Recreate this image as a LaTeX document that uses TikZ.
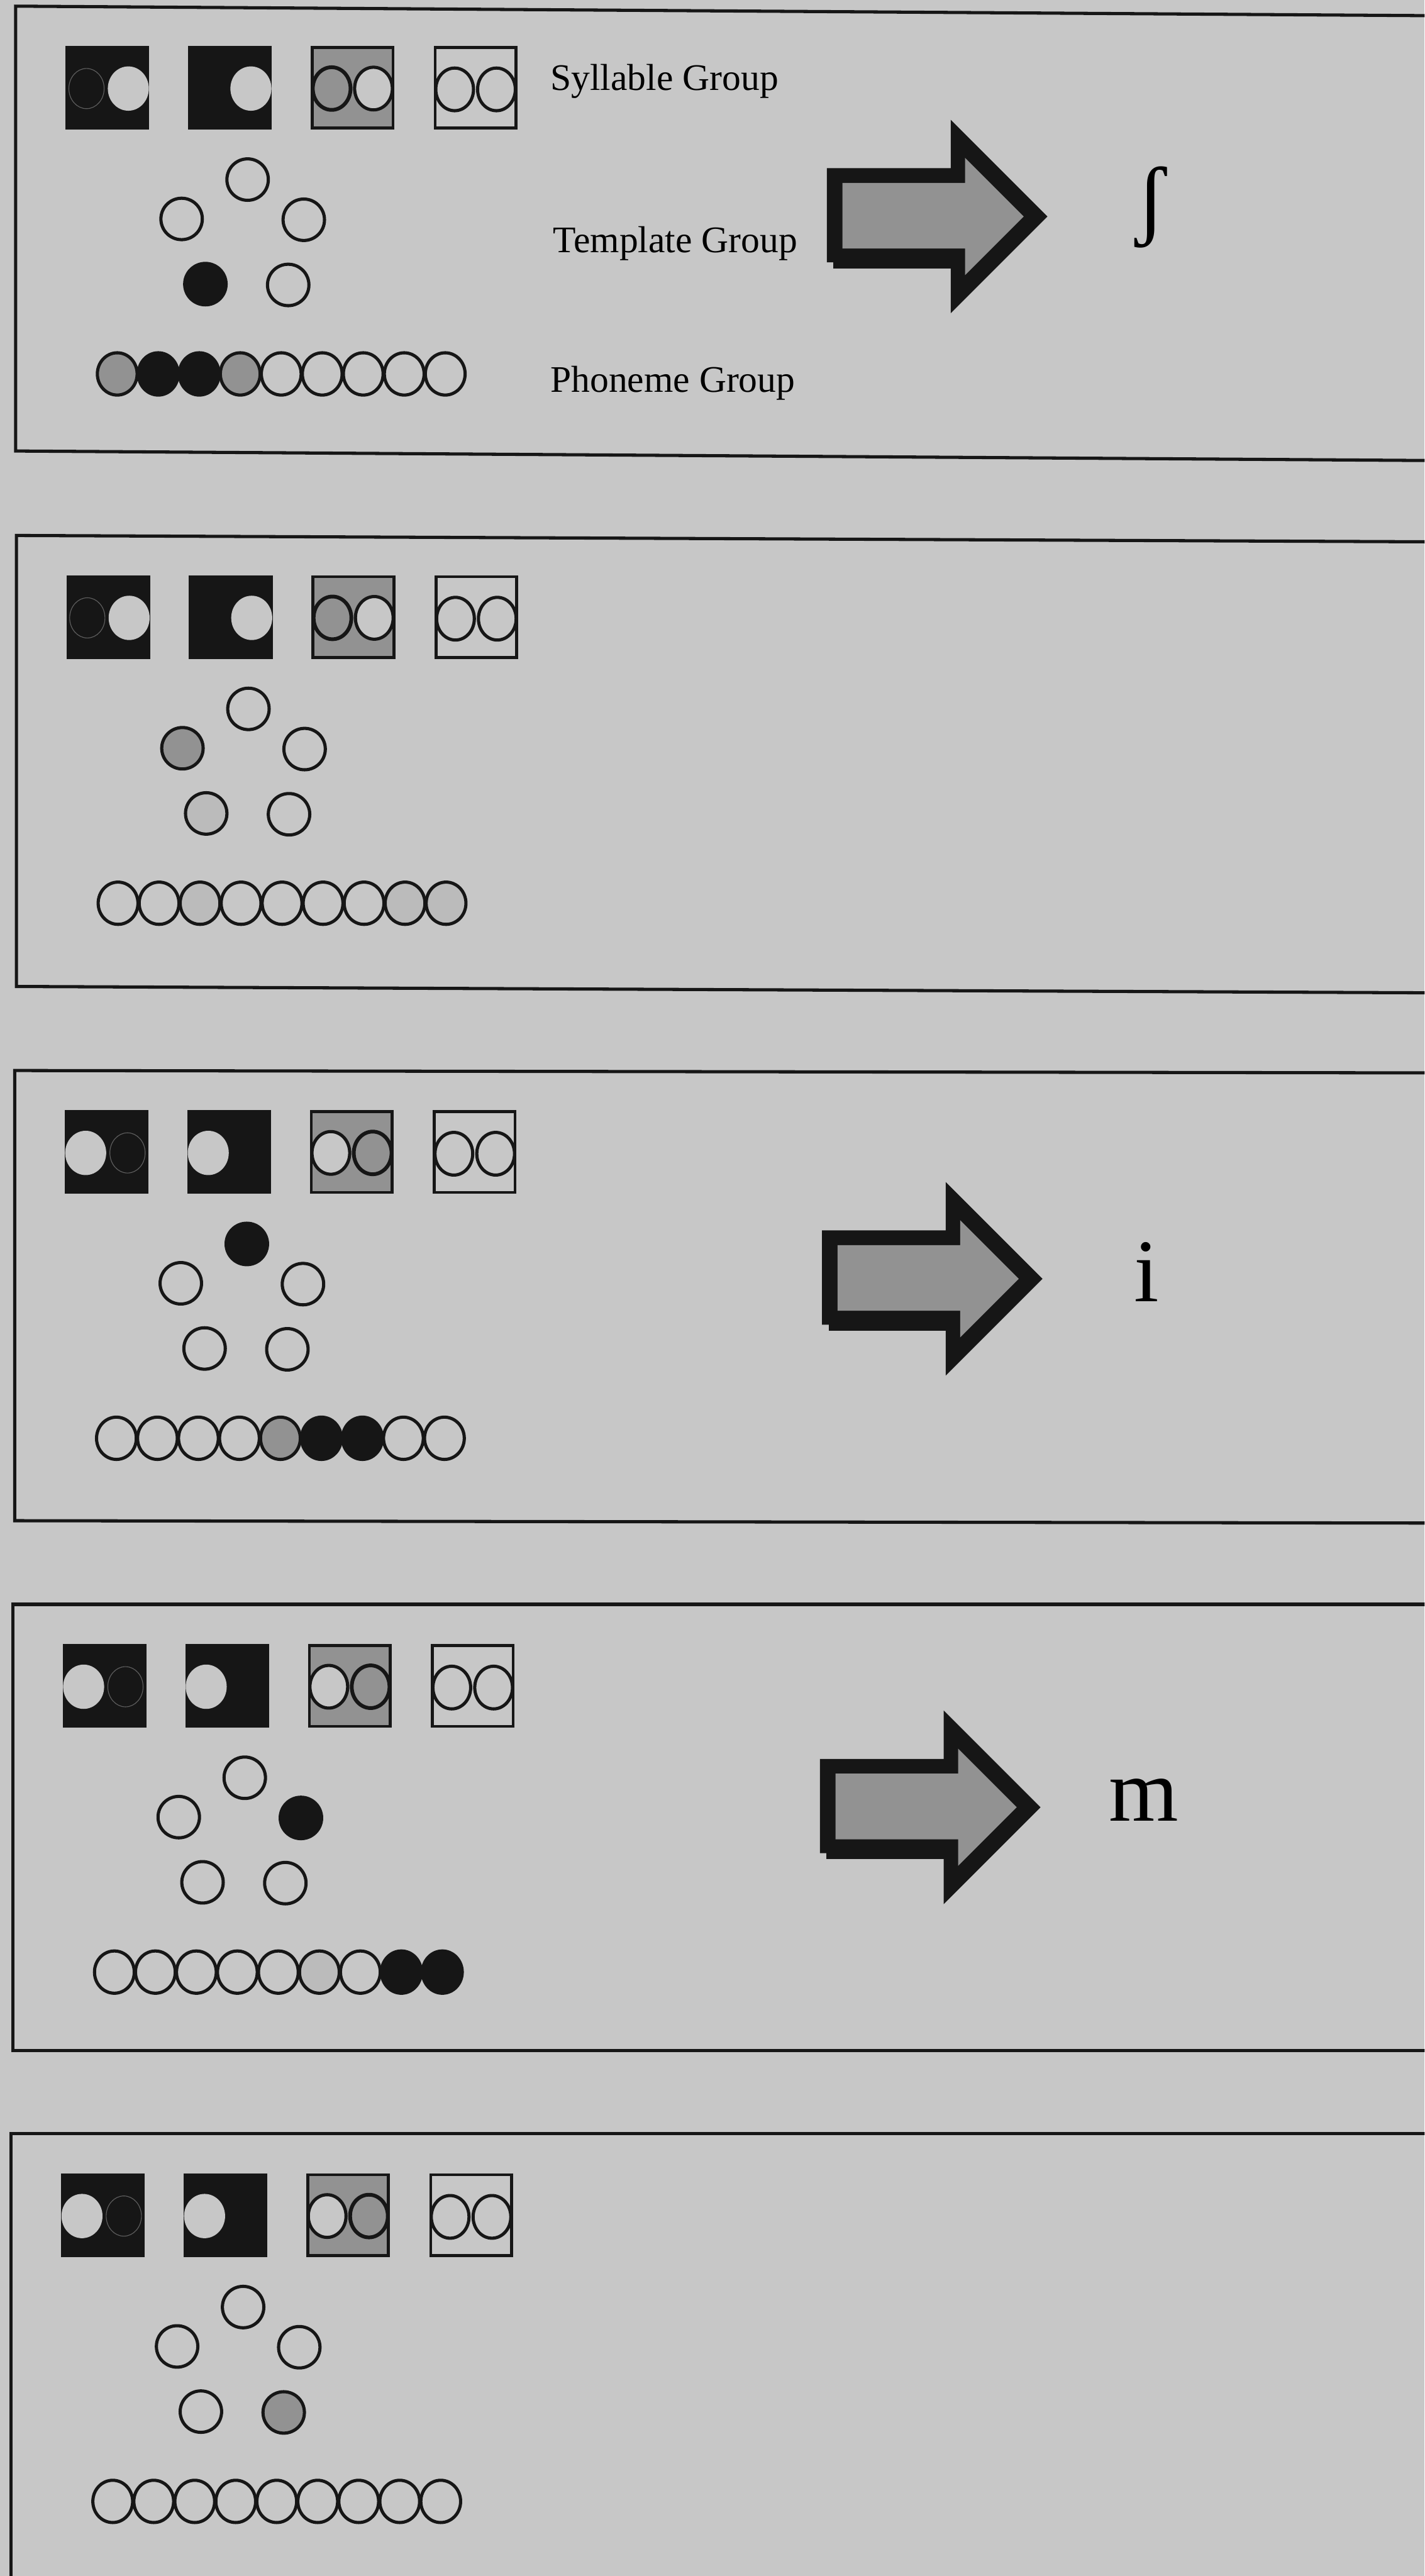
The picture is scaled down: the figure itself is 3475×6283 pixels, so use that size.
\documentclass[tikz,border=0pt]{standalone}
\usepackage{fontspec}
\setmainfont{Liberation Serif}
\usetikzlibrary{shapes.geometric}
\definecolor{paper}{RGB}{199,199,199}
\definecolor{ink}{RGB}{22,22,22}
\definecolor{stip}{RGB}{146,146,146}
\definecolor{faint}{RGB}{187,187,187}
\definecolor{ghost}{RGB}{95,95,95}
\tikzset{
 sg frame/.style={line width=2.2pt,draw=ink},
 sg square/.style={rectangle,minimum size=1.97cm,inner sep=0pt,draw=ink,line width=2pt},
 sg dark/.style={rectangle,minimum size=2.04cm,inner sep=0pt,fill=ink},
 sg ring/.style={ellipse,minimum width=.92cm,minimum height=1.04cm,inner sep=0pt,
                 draw=ink,line width=2.2pt},
 sg hole/.style={ellipse,minimum width=1cm,minimum height=1.08cm,inner sep=0pt,fill=paper},
 sg ghost/.style={ellipse,minimum width=.86cm,minimum height=.98cm,inner sep=0pt,
                  draw=ghost,line width=.5pt},
 tg ring/.style={circle,minimum size=1.01cm,inner sep=0pt,draw=ink,line width=2.2pt},
 pg ring/.style={ellipse,minimum width=.97cm,minimum height=1.03cm,inner sep=0pt,
                 draw=ink,line width=2.2pt},
 sg label/.style={font=\fontsize{26}{30}\selectfont,anchor=base west,inner sep=0pt},
 out letter/.style={font=\fontsize{62}{70}\selectfont,inner sep=0pt,anchor=base west}
}
% #1 name, #2 left, #3 top, #4 bottom, #5 tilt, #6 flip, #7 template fills, #8 phoneme fills
\newcommand{\panel}[8]{%
 \draw[sg frame] (3600,{#3+#5}) -- (#2,#3) -- (#2,#4) -- (3600,{#4+#5});
 \begin{scope}[shift={(#2,#3)}]
  % syllable group
  \node[sg dark] (#1s1) at (224,199) {};
  \node[sg hole] (#1s1b) at ({224+51*(#6)},201) {};
  \node[sg ring,fill=ink] (#1s1a) at ({224-51*(#6)},201) {};
  \node[sg ghost] (#1s1g) at ({224-51*(#6)},201) {};
  \node[sg dark] (#1s2) at (523,199) {};
  \node[sg hole] (#1s2b) at ({523+51*(#6)},201) {};
  \node[sg ring,fill=ink] (#1s2a) at ({523-51*(#6)},201) {};
  \node[sg square,fill=stip] (#1s3) at (822,199) {};
  \node[sg ring,fill=stip,line width=2.6pt] (#1s3a) at ({822-51*(#6)},201) {};
  \node[sg ring,fill=paper] (#1s3b) at ({822+51*(#6)},201) {};
  \node[sg square,fill=paper] (#1s4) at (1122,199) {};
  \node[sg ring,fill=paper] (#1s4a) at (1071,203) {};
  \node[sg ring,fill=paper] (#1s4b) at (1173,203) {};
  % template group
  \coordinate (#1t1) at (566,423);
  \coordinate (#1t2) at (405,519);
  \coordinate (#1t3) at (703,521);
  \coordinate (#1t4) at (463,678);
  \coordinate (#1t5) at (665,680);
  \foreach \f [count=\k] in {#7} \node[tg ring,fill=\f] (#1tg\k) at (#1t\k) {};
  % phoneme group
  \foreach \f [count=\k] in {#8} \node[pg ring,fill=\f] (#1pg\k) at ({148+100*\k},897) {};
 \end{scope}}
% #1 name, #2/#3 tip of the arrow
\newcommand{\bigarrow}[3]{%
 \begin{scope}[shift={(#2,#3)}]
  \fill[ink] (-522,110) rectangle (-236,127);
  \fill[ink] (-538,-118) -- (-236,-118) -- (-236,-236) -- (0,0) -- (-236,236)
    -- (-236,112) -- (-538,112) -- cycle;
  \fill[stip] (-500,-82) -- (-201,-82) -- (-201,-143) -- (-58,0) -- (-201,143)
    -- (-201,78) -- (-500,78) -- cycle;
  \coordinate (#1) at (0,0);
 \end{scope}}

\begin{document}
\begin{tikzpicture}[x=0.01cm,y=-0.01cm]
 \fill[paper] (0,0) rectangle (3475,6283);
 \useasboundingbox (0,0) rectangle (3475,6283);
 \clip (0,0) rectangle (3475,6283);

 \panel{a}{38}{15}{1100}{24}{1}{paper,paper,paper,ink,paper}
   {stip,ink,ink,stip,paper,paper,paper,paper,paper}
 \panel{b}{40}{1306}{2406}{16}{1}{paper,stip,paper,faint,paper}
   {paper,paper,faint,paper,paper,paper,paper,faint,faint}
 \panel{c}{36}{2611}{3709}{6}{-1}{ink,paper,paper,paper,paper}
   {paper,paper,paper,paper,stip,ink,ink,paper,paper}
 \panel{d}{31}{3913}{5002}{0}{-1}{paper,paper,ink,paper,paper}
   {paper,paper,paper,paper,paper,faint,paper,ink,ink}
 \panel{e}{27}{5204}{6450}{0}{-1}{paper,paper,paper,paper,stip}
   {paper,paper,paper,paper,paper,paper,paper,paper,paper}

 \node[sg label] (syl) at (1342,220) {Syllable Group};
 \node[sg label] (tpl) at (1349,616) {Template Group};
 \node[sg label] (pho) at (1342,957) {Phoneme Group};

 \bigarrow{arr1}{2555}{528}
 \bigarrow{arr3}{2543}{3119}
 \bigarrow{arr4}{2538}{4408}
 \node[out letter,anchor=base] (esh) at (2808,558) {ʃ};
 \node[out letter] (ii) at (2766,3174) {i};
 \node[out letter] (mm) at (2705,4441) {m};
\end{tikzpicture}
\end{document}
